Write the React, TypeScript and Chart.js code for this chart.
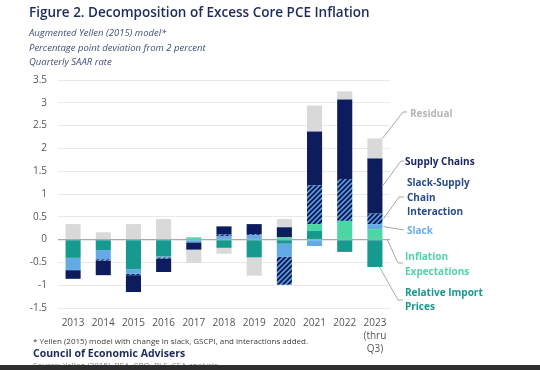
import React, { useEffect, useRef } from 'react';
import { Chart, registerables } from 'chart.js';

Chart.register(...registerables);

// ---- Data ----
const categories = ['2013', '2014', '2015', '2016', '2017', '2018', '2019', '2020', '2021', '2022', '2023'];
const xTickLabels: (string | string[])[] = ['2013', '2014', '2015', '2016', '2017', '2018', '2019', '2020', '2021', '2022', ['2023', '(thru', 'Q3)']];
const yTickLabels = ['-1.5', '-1', '-0.5', '0', '0.5', '1', '1.5', '2', '2.5', '3', '3.5'];
const yTickValues = [-1.5, -1, -0.5, 0, 0.5, 1, 1.5, 2, 2.5, 3, 3.5];

const relativeImportPrices = [-0.40, -0.23, -0.65, -0.37, -0.02, -0.18, -0.39, -0.09, 0.19, -0.27, -0.60];
const inflationExpectations = [0, 0, 0, 0, 0.05, 0, 0, 0.05, 0.15, 0.41, 0.23];
const slackValues = [-0.27, -0.20, -0.10, -0.02, -0.04, 0.08, 0.10, -0.29, -0.14, 0, 0.11];
const slackSupplyInteraction = [0, -0.03, -0.03, -0.03, 0, 0.03, 0.02, -0.61, 0.85, 0.92, 0.23];
const supplyChains = [-0.19, -0.32, -0.37, -0.29, -0.16, 0.18, 0.22, 0.22, 1.18, 1.74, 1.21];
const residual = [0.34, 0.16, 0.34, 0.45, -0.29, -0.13, -0.40, 0.18, 0.57, 0.18, 0.44];

const NAVY = '#0c1c5c';
const LIGHTBLUE = '#64aae6';
const MINT = '#4cd6a5';
const TEAL = '#16998e';
const GRAY = '#d9d9d9';

function makeHatch(): CanvasPattern | string {
  const c = document.createElement('canvas');
  const s = 5;
  c.width = s;
  c.height = s;
  const g = c.getContext('2d');
  if (!g) return NAVY;
  g.fillStyle = NAVY;
  g.fillRect(0, 0, s, s);
  g.strokeStyle = LIGHTBLUE;
  g.lineWidth = 1.5;
  g.beginPath();
  g.moveTo(0, s);
  g.lineTo(s, 0);
  g.moveTo(-1, 1);
  g.lineTo(1, -1);
  g.moveTo(s - 1, s + 1);
  g.lineTo(s + 1, s - 1);
  g.stroke();
  const p = g.createPattern(c, 'repeat');
  return p || NAVY;
}

const leaderPlugin = {
  id: 'leaders',
  afterDatasetsDraw(chart: any) {
    const ctx = chart.ctx;
    const i = categories.length - 1;
    const el = (k: number) => chart.getDatasetMeta(k).data[i];
    const right = el(5).x + el(5).width / 2;
    const mid = (k: number) => (el(k).y + el(k).base) / 2;
    const lines: [number, number, number, number, number][] = [
      // startX, startY, elbowX, elbowY, endX
      [right, el(5).y, 403, 112, 407],
      [right, mid(4), 401, 161, 404],
      [right + 1, mid(3), 399, 197, 404],
      [right + 1, mid(2), 404, 230, 404],
      [right + 5, el(1).base + 1, 398, 263, 403],
      [right - 3, el(0).y, 398, 300, 403],
    ];
    ctx.save();
    ctx.strokeStyle = '#a8a8a8';
    ctx.lineWidth = 1;
    for (const [sx, sy, ex, ey, fx] of lines) {
      ctx.beginPath();
      ctx.moveTo(sx, sy);
      ctx.lineTo(ex, ey);
      ctx.lineTo(fx, ey);
      ctx.stroke();
    }
    ctx.restore();
  },
};

const FONT = '"Open Sans", "Noto Sans", sans-serif';

export default function App() {
  const ref = useRef<HTMLCanvasElement | null>(null);

  useEffect(() => {
    if (!ref.current) return;
    const hatch = makeHatch();
    const chart = new Chart(ref.current, {
      type: 'bar',
      data: {
        labels: categories,
        datasets: [
          { label: 'Relative Import Prices', data: relativeImportPrices, backgroundColor: TEAL },
          { label: 'Inflation Expectations', data: inflationExpectations, backgroundColor: MINT },
          { label: 'Slack', data: slackValues, backgroundColor: LIGHTBLUE },
          { label: 'Slack-Supply Chain Interaction', data: slackSupplyInteraction, backgroundColor: hatch as any },
          { label: 'Supply Chains', data: supplyChains, backgroundColor: NAVY },
          { label: 'Residual', data: residual, backgroundColor: GRAY },
        ],
      },
      options: {
        responsive: false,
        animation: false,
        devicePixelRatio: 1,
        layout: { padding: { left: 0, right: 150, top: 80, bottom: 0 } },
        datasets: { bar: { barPercentage: 0.5, categoryPercentage: 1, borderWidth: 0 } },
        plugins: { legend: { display: false }, tooltip: { enabled: false } },
        scales: {
          x: {
            stacked: true,
            grid: { display: false, drawTicks: false },
            border: { display: false },
            ticks: {
              padding: 9,
              color: '#555555',
              font: { family: FONT, size: 10, lineHeight: 1.3 },
              maxRotation: 0,
              autoSkip: false,
              callback: (_v: any, idx: number) => xTickLabels[idx],
            },
            afterFit: (s: any) => { s.height = 62; },
          },
          y: {
            stacked: true,
            min: -1.5,
            max: 3.5,
            grid: {
              drawTicks: false,
              color: (c: any) => (c.tick && c.tick.value === 0 ? '#a9a9a9' : '#e9e9e9'),
              lineWidth: (c: any) => (c.tick && c.tick.value === 0 ? 1.3 : 1),
            },
            border: { display: false },
            ticks: {
              stepSize: 0.5,
              padding: 11,
              color: '#555555',
              font: { family: FONT, size: 10 },
              callback: (v: any) => {
                const k = yTickValues.findIndex((t) => Math.abs(t - Number(v)) < 1e-6);
                return k >= 0 ? yTickLabels[k] : '';
              },
            },
            afterFit: (s: any) => { s.width = 58; },
          },
        },
      },
      plugins: [leaderPlugin],
    });
    return () => chart.destroy();
  }, []);

  const abs = (left: number, top: number, extra: React.CSSProperties): React.CSSProperties => ({
    position: 'absolute', left, top, whiteSpace: 'nowrap', fontFamily: FONT, ...extra,
  });

  return (
    <div style={{ position: 'fixed', left: 0, top: 0, width: 540, height: 370, background: '#ffffff', overflow: 'hidden' }}>
      <canvas ref={ref} width={540} height={370} style={{ position: 'absolute', left: 0, top: 0, width: 540, height: 370 }} />
      <div style={abs(29, 3, { fontSize: 13.5, fontWeight: 600, color: '#1c2b5a', lineHeight: '18px' })}>
        Figure 2. Decomposition of Excess Core PCE Inflation
      </div>
      <div style={abs(29, 26, { fontSize: 9.5, fontStyle: 'italic', color: '#3f5178', lineHeight: '14.5px' })}>
        <div>Augmented Yellen (2015) model*</div>
        <div>Percentage point deviation from 2 percent</div>
        <div>Quarterly SAAR rate</div>
      </div>
      <div style={abs(410, 105, { fontSize: 10, fontWeight: 700, color: '#b5b5b5', lineHeight: '16px' })}>Residual</div>
      <div style={abs(405, 153, { fontSize: 10, fontWeight: 700, color: '#1b2561', lineHeight: '16px' })}>Supply Chains</div>
      <div style={abs(407, 175, { fontSize: 10, fontWeight: 700, color: '#284c84', lineHeight: '14.5px' })}>
        <div>Slack-Supply</div>
        <div>Chain</div>
        <div>Interaction</div>
      </div>
      <div style={abs(407, 222, { fontSize: 10, fontWeight: 700, color: '#6aaee6', lineHeight: '16px' })}>Slack</div>
      <div style={abs(405, 249, { fontSize: 10, fontWeight: 700, color: '#4fd6a6', lineHeight: '14.5px' })}>
        <div>Inflation</div>
        <div>Expectations</div>
      </div>
      <div style={abs(405, 285, { fontSize: 10, fontWeight: 700, color: '#17998e', lineHeight: '14px' })}>
        <div>Relative Import</div>
        <div>Prices</div>
      </div>
      <div style={abs(33, 335, { fontSize: 8, color: '#3a3a3a', lineHeight: '11px' })}>
        * Yellen (2015) model with change in slack, GSCPI, and interactions added.
      </div>
      <div style={abs(33, 346, { fontSize: 10.5, fontWeight: 700, color: '#1c2b5a', lineHeight: '15px' })}>
        Council of Economic Advisers
      </div>
      <div style={abs(33, 359, { fontSize: 8, color: '#808080', lineHeight: '11px' })}>
        Source: Yellen (2015), BEA, CBO, BLS, CEA analysis.
      </div>
      <div style={{ position: 'absolute', left: 0, top: 365, width: 540, height: 5, background: '#2e2e2e' }} />
    </div>
  );
}
